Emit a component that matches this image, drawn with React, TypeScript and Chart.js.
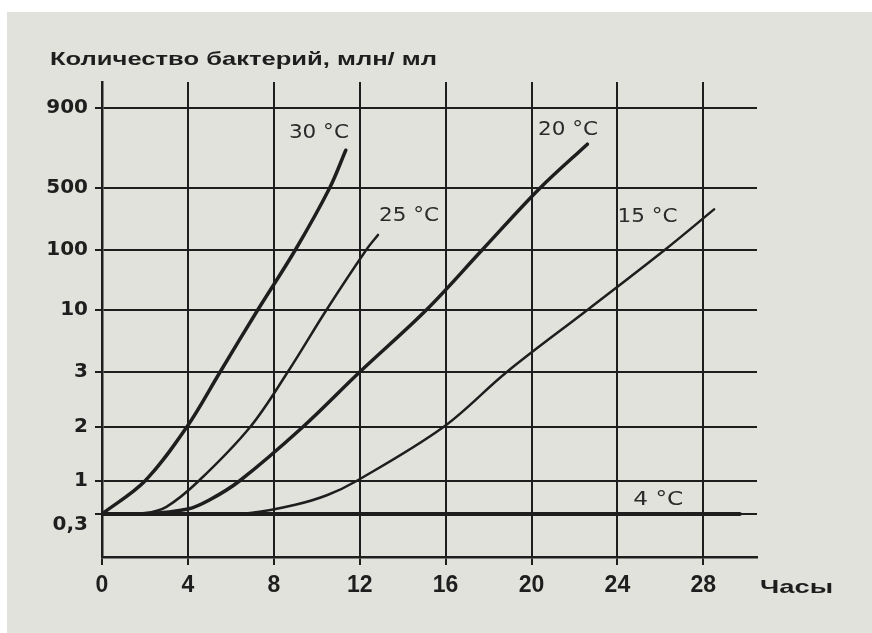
import React, { useEffect, useRef } from "react";
import { Chart, registerables } from "chart.js";

Chart.register(...registerables);

// Axis definition (irregular textbook scale)
const tickValues = [0.3, 1, 2, 3, 10, 100, 500, 900];
const tickLabels = ["0,3", "1", "2", "3", "10", "100", "500", "900"];
const tickPositions = [43, 76, 130, 185, 247, 307, 369, 449];
const xTicks = [0, 4, 8, 12, 16, 20, 24, 28];

// Series: hours and bacteria count (млн/мл)
const hours30 = [0, 2.0, 3.95, 5.5, 7.25, 9.0, 10.6, 11.35];
const counts30 = [0.3, 1, 2, 3, 10, 100, 500, 660];

const hours25 = [0, 2, 3, 4.5, 6.9, 8.65, 10.45, 12.3, 12.85];
const counts25 = [0.3, 0.31, 0.39, 1, 2, 3, 10, 100, 148];

const hours20 = [0, 2, 4, 5, 6.4, 9.35, 12.0, 15.1, 17.7, 20.4, 22.6];
const counts20 = [0.3, 0.3, 0.36, 0.5, 1, 2, 3, 10, 100, 500, 690];

const hours15 = [0, 5, 6.9, 9, 10.5, 11.85, 15.9, 18.85, 22.6, 26.2, 28.5];
const counts15 = [0.3, 0.3, 0.31, 0.42, 0.6, 1, 2, 3, 10, 100, 287];

const hours4 = [0, 29.7];
const counts4 = [0.3, 0.3];

const seriesNames = ["30 °C", "25 °C", "20 °C", "15 °C", "4 °C"];
const labelHours = [10.1, 14.3, 21.7, 25.4, 25.9];
const labelCounts = [750, 240, 765, 235, 0.5];

function toPos(v: number): number {
  if (v <= tickValues[0]) return tickPositions[0];
  for (let i = 0; i < tickValues.length - 1; i++) {
    const a = tickValues[i];
    const b = tickValues[i + 1];
    if (v <= b) {
      const f = Math.log(v / a) / Math.log(b / a);
      return tickPositions[i] + f * (tickPositions[i + 1] - tickPositions[i]);
    }
  }
  const n = tickValues.length - 1;
  const f = Math.log(v / tickValues[n - 1]) / Math.log(tickValues[n] / tickValues[n - 1]);
  return tickPositions[n - 1] + f * (tickPositions[n] - tickPositions[n - 1]);
}

function pts(h: number[], c: number[]) {
  return h.map((x, i) => ({ x, y: toPos(c[i]) }));
}

const INK = "#1e1e1e";

function fillTextWidth(ctx: any, text: string, x: number, y: number, width: number, align: string) {
  const w = ctx.measureText(text).width;
  const s = width / w;
  ctx.save();
  let left = x;
  if (align === "center") left = x - width / 2;
  ctx.translate(left, y);
  ctx.scale(s, 1);
  ctx.textAlign = "left";
  ctx.fillText(text, 0, 0);
  ctx.restore();
}

export default function App() {
  const ref = useRef<HTMLCanvasElement | null>(null);

  useEffect(() => {
    if (!ref.current) return;
    const textPlugin = {
      id: "texts",
      afterDraw(chart: any) {
        const ctx = chart.ctx;
        const xs = chart.scales.x;
        const ys = chart.scales.y;
        const area = chart.chartArea;
        ctx.save();
        ctx.fillStyle = INK;
        ctx.textBaseline = "middle";
        // title
        ctx.font = "bold 19px 'Liberation Sans'";
        fillTextWidth(ctx, "Количество бактерий, млн/ мл", 50, 60, 387, "left");
        // x axis title
        ctx.font = "bold 19px 'Liberation Sans'";
        fillTextWidth(ctx, "Часы", area.right + 3, 588, 73, "left");
        // series labels
        ctx.font = "19px 'DejaVu Sans'";
        ctx.fillStyle = "#2a2a2a";
        seriesNames.forEach((s, i) => {
          const px = xs.getPixelForValue(labelHours[i]);
          const py = ys.getPixelForValue(toPos(labelCounts[i]));
          fillTextWidth(ctx, s, px, py, i === 4 ? 50 : 60, "center");
        });
        ctx.restore();
      },
    };

    const ds = (label: string, data: any[], w: number) => ({
      label,
      data,
      borderColor: INK,
      borderWidth: w,
      pointRadius: 0,
      fill: false,
      tension: 0.35,
      borderCapStyle: "round" as const,
      borderJoinStyle: "round" as const,
    });

    const chart = new Chart(ref.current, {
      type: "line",
      data: {
        datasets: [
          ds(seriesNames[0], pts(hours30, counts30), 3.5),
          ds(seriesNames[1], pts(hours25, counts25), 2.5),
          ds(seriesNames[2], pts(hours20, counts20), 3.5),
          ds(seriesNames[3], pts(hours15, counts15), 2.5),
          ds(seriesNames[4], pts(hours4, counts4), 4),
        ],
      },
      options: {
        responsive: false,
        maintainAspectRatio: false,
        animation: false,
        devicePixelRatio: 1,
        layout: { padding: { top: 82, right: 115, left: 0, bottom: 0 } },
        plugins: {
          legend: { display: false },
          tooltip: { enabled: false },
          title: { display: false },
        },
        scales: {
          x: {
            type: "linear",
            min: 0,
            max: 30.5,
            afterBuildTicks: (scale: any) => {
              scale.ticks = xTicks.map((v) => ({ value: v }));
            },
            afterFit: (scale: any) => {
              scale.height = 76;
            },
            grid: {
              color: INK,
              lineWidth: 2,
              tickLength: 8,
              drawOnChartArea: true,
              drawTicks: true,
            },
            border: { display: true, color: INK, width: 2.5 },
            ticks: {
              color: INK,
              font: { family: "'Liberation Sans'", weight: "bold", size: 23 },
              padding: 7,
              maxRotation: 0,
              autoSkip: false,
            },
          },
          y: {
            type: "linear",
            min: 0,
            max: 475,
            afterBuildTicks: (scale: any) => {
              scale.ticks = tickPositions.map((v) => ({ value: v }));
            },
            afterFit: (scale: any) => {
              scale.width = 102;
            },
            grid: {
              color: INK,
              lineWidth: 2,
              tickLength: 7,
              drawOnChartArea: true,
              drawTicks: true,
            },
            border: { display: true, color: INK, width: 2.5 },
            ticks: {
              color: INK,
              font: { family: "'DejaVu Sans'", weight: "bold", size: 20, lineHeight: 1.1 },
              padding: 7,
              autoSkip: false,
              callback: (value: any) => {
                const i = tickPositions.indexOf(Number(value));
                if (i < 0) return "";
                return i === 0 ? ["", tickLabels[i]] : tickLabels[i];
              },
            },
          },
        },
      },
      plugins: [textPlugin],
    });
    return () => chart.destroy();
  }, []);

  return (
    <>
      <div
        style={{
          position: "absolute",
          left: 7,
          top: 12,
          width: 865,
          height: 621,
          background: "#e2e2dd",
        }}
      />
      <canvas
        ref={ref}
        width={872}
        height={633}
        style={{ position: "absolute", left: 0, top: 0, width: 872, height: 633 }}
      />
    </>
  );
}
